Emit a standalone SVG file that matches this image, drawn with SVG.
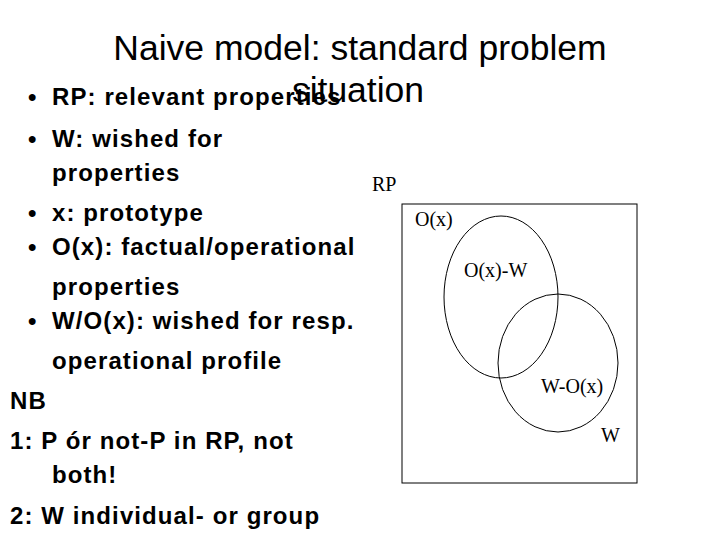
<svg xmlns="http://www.w3.org/2000/svg" width="720" height="540" viewBox="0 0 720 540">
<style>
.t{font-family:"Liberation Sans",Arial,sans-serif;font-size:35.5px;fill:#000}
.b{font-family:"Liberation Sans",Arial,sans-serif;font-size:24px;font-weight:bold;fill:#000;letter-spacing:1.1px}
.s{font-family:"Liberation Serif","Times New Roman",serif;font-size:20px;fill:#000}
.l{fill:none;stroke:#000;stroke-width:1}
</style>
<rect width="720" height="540" fill="#fff"/>
<g id="title">
<text class="t" x="360" y="60" text-anchor="middle">Naive model: standard problem</text>
<text class="t" x="358" y="102" text-anchor="middle">situation</text>
</g>
<g id="bullets">
<text class="b" x="28" y="105">•</text><text class="b" x="52" y="105">RP: relevant properties</text>
<text class="b" x="28" y="147">•</text><text class="b" x="52" y="147">W: wished for</text>
<text class="b" x="52" y="181">properties</text>
<text class="b" x="28" y="221">•</text><text class="b" x="52" y="221">x: prototype</text>
<text class="b" x="28" y="255">•</text><text class="b" x="52" y="255">O(x): factual/operational</text>
<text class="b" x="52" y="295">properties</text>
<text class="b" x="28" y="329">•</text><text class="b" x="52" y="329">W/O(x): wished for resp.</text>
<text class="b" x="52" y="369">operational profile</text>
<text class="b" x="10" y="409">NB</text>
<text class="b" x="10" y="449">1: P ór not-P in RP, not</text>
<text class="b" x="52" y="483">both!</text>
<text class="b" x="10" y="524">2: W individual- or group</text>
</g>
<g id="rp">
<rect class="l" x="402" y="204" width="235" height="279"/>
<text class="s" x="372" y="191">RP</text>
</g>
<g id="ox">
<ellipse class="l" cx="501" cy="297" rx="57" ry="81"/>
<text class="s" x="415" y="226">O(x)</text>
</g>
<g id="w">
<ellipse class="l" cx="558" cy="363" rx="60" ry="69"/>
<text class="s" x="601" y="442">W</text>
</g>
<g id="labels">
<text class="s" x="464" y="277" font-size="17">O(x)-W</text>
<text class="s" x="541" y="393" font-size="17">W-O(x)</text>
</g>
</svg>
